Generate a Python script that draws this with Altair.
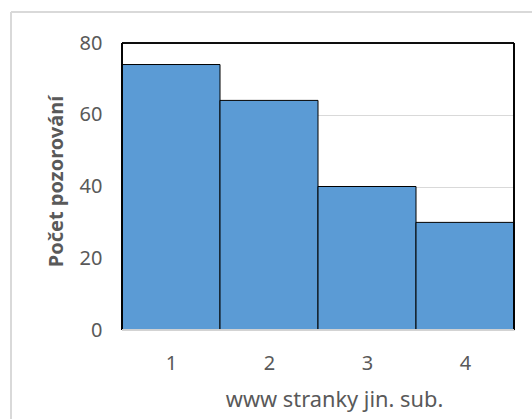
import altair as alt
import pandas as pd

# Histogram of observations per category
categories = [1, 2, 3, 4]
counts = [74, 64, 40, 30]

df = pd.DataFrame({"cat": categories, "count": counts})

FONT = "Noto Sans"
GRAY_TXT = "#595959"
GRID = "#d9d9d9"
W, H = 392, 287

x_scale = alt.Scale(domain=[0.5, 4.5], nice=False, zero=False)
y_scale = alt.Scale(domain=[0, 80], nice=False)

bars = (
    alt.Chart(df)
    .transform_calculate(lo="datum.cat - 0.5", hi="datum.cat + 0.5")
    .mark_bar(fill="#5b9bd5", stroke="black", strokeWidth=1)
    .encode(
        x=alt.X(
            "lo:Q",
            scale=x_scale,
            axis=alt.Axis(
                values=categories,
                format="d",
                grid=False,
                ticks=False,
                domain=False,
                labelFont=FONT,
                labelFontSize=20,
                labelColor=GRAY_TXT,
                labelPadding=23,
                title="www stranky jin. sub.",
                titleFont=FONT,
                titleFontSize=21.8,
                titleFontWeight="normal",
                titleColor=GRAY_TXT,
                titlePadding=16,
                titleX=212,
            ),
        ),
        x2="hi:Q",
        y=alt.Y(
            "count:Q",
            scale=y_scale,
            axis=alt.Axis(
                values=[0, 20, 40, 60, 80],
                grid=True,
                gridColor=GRID,
                gridWidth=1,
                ticks=False,
                domain=False,
                labelFont=FONT,
                labelFontSize=20,
                labelColor=GRAY_TXT,
                labelPadding=20,
                title="Počet pozorování",
                titleFont=FONT,
                titleFontSize=20,
                titleFontWeight="bold",
                titleColor=GRAY_TXT,
                titlePadding=13,
                titleY=138,
            ),
        ),
        y2=alt.datum(0),
    )
)

# Plot frame: black on top and sides, light gray baseline
top = alt.Chart(df).mark_rule(color="black", strokeWidth=1.2).encode(y=alt.datum(80, scale=y_scale))
left = alt.Chart(df).mark_rule(color="black", strokeWidth=1.2).encode(x=alt.datum(0.5, scale=x_scale))
right = alt.Chart(df).mark_rule(color="black", strokeWidth=1.2).encode(x=alt.datum(4.5, scale=x_scale))
base = alt.Chart(df).mark_rule(color=GRID, strokeWidth=1.2).encode(y=alt.datum(0, scale=y_scale))

# Outer chart border
border_v = alt.Chart(df).mark_rule(color="#d9d9d9", strokeWidth=2).encode(
    x=alt.value(-111), y=alt.value(-31), y2=alt.value(400)
)
border_h = alt.Chart(df).mark_rule(color="#d9d9d9", strokeWidth=2).encode(
    y=alt.value(-31), x=alt.value(-111), x2=alt.value(420)
)

chart = (
    alt.layer(bars, top, left, right, base, border_v, border_h)
    .properties(
        width=W,
        height=H,
        autosize=alt.AutoSizeParams(type="none"),
        padding={"left": 122, "top": 43, "right": 18, "bottom": 89},
    )
    .configure_view(stroke=None)
    .configure(background="white")
)

chart.save("out.html", embed_options={"renderer": "svg", "actions": False})
